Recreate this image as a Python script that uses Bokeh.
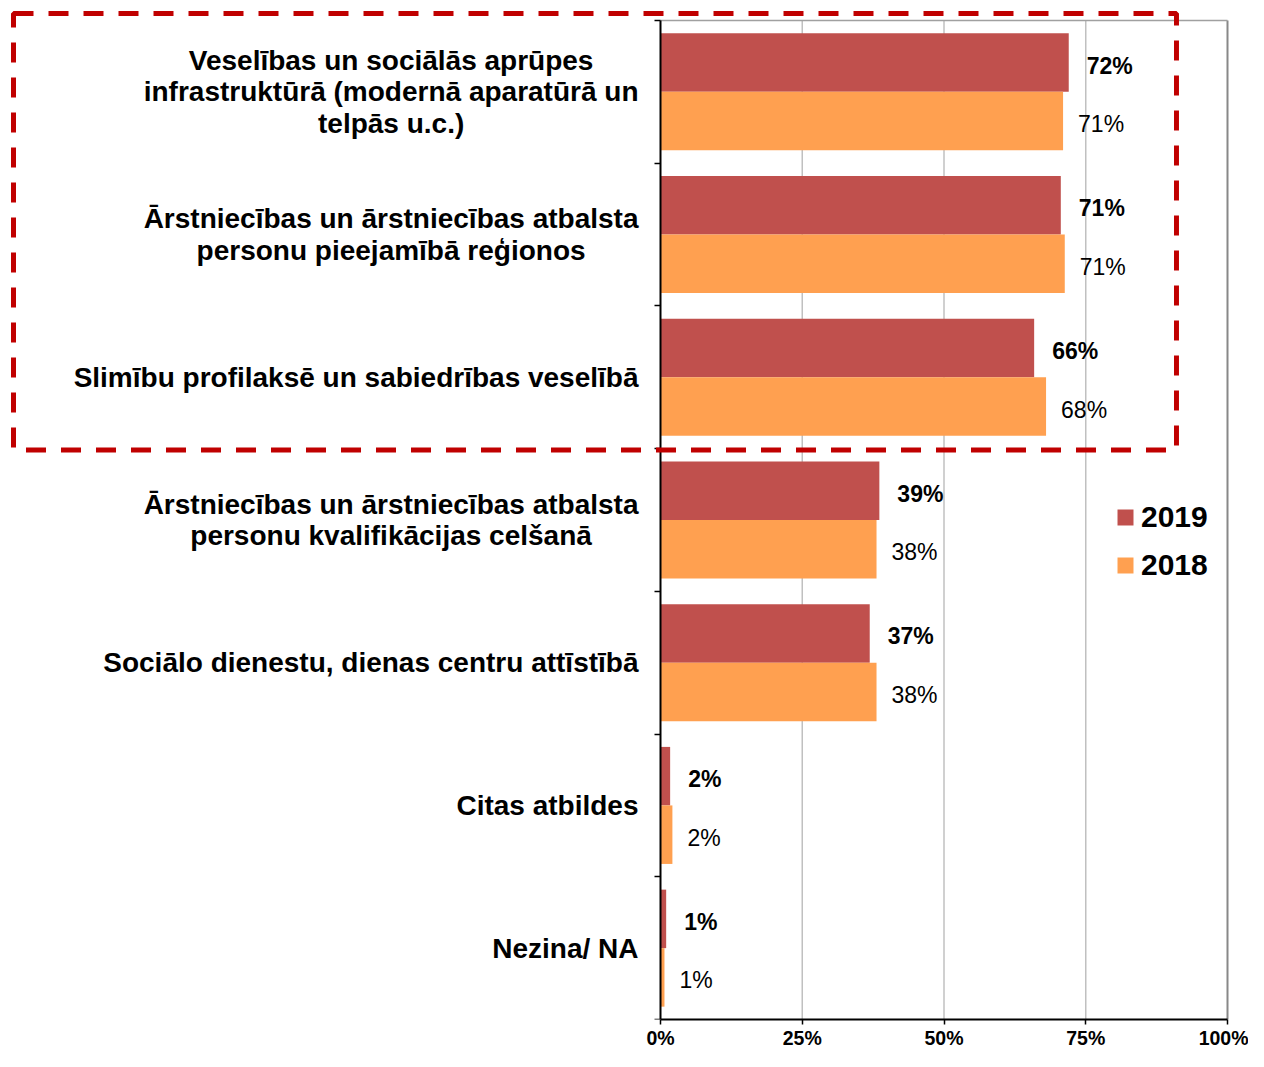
from bokeh.plotting import figure
from bokeh.models import (Range1d, FixedTicker, PrintfTickFormatter, BoxAnnotation,
                          Legend, LegendItem, ColumnDataSource, CustomJSTickFormatter)
from bokeh.transform import dodge
from bokeh.core.properties import value
from bokeh.embed import file_html
from bokeh.resources import INLINE

# ---------------- data ----------------
categories = [
    "Veselības un sociālās aprūpes\ninfrastruktūrā (modernā aparatūrā un\ntelpās u.c.)",
    "Ārstniecības un ārstniecības atbalsta\npersonu pieejamībā reģionos",
    "Slimību profilaksē un sabiedrības veselībā",
    "Ārstniecības un ārstniecības atbalsta\npersonu kvalifikācijas celšanā",
    "Sociālo dienestu, dienas centru attīstībā",
    "Citas atbildes",
    "Nezina/ NA",
]
values_2019 = [72.0, 70.6, 65.9, 38.6, 36.9, 1.7, 1.0]
values_2018 = [71.0, 71.3, 68.0, 38.1, 38.1, 2.1, 0.7]
series_names = ["2019", "2018"]
x_ticks = [0, 25, 50, 75, 100]

# ---------------- styles / layout ----------------
FONT = "Liberation Sans"
C2019 = "#C0504D"
C2018 = "#FFA050"
BAR_H = 0.41
n = len(categories)

W, H = 1248, 1051
FL, FR, FT, FB = 10, 1229, 8, 1022          # frame edges on the canvas (px)
PX0, PX100 = 660, 1227                      # where 0 % and 100 % sit (px)
PY0 = 20                                    # where the top category edge sits (px)
sx = (PX100 - PX0) / 100.0
sy = (FB - PY0) / n

src = ColumnDataSource(dict(
    y=[i + 0.5 for i in range(n)],
    cat=categories,
    v2019=values_2019,
    v2018=values_2018,
    l2019=[f"{round(v):d}%" for v in values_2019],
    l2018=[f"{round(v):d}%" for v in values_2018],
))

p = figure(width=W, height=H,
           x_range=Range1d(-(PX0 - FL) / sx, (FR - PX0) / sx),
           y_range=Range1d(n, -(PY0 - FT) / sy),
           output_backend="svg", toolbar_location=None,
           min_border_left=FL, min_border_right=W - FR, min_border_top=FT,
           min_border_bottom=H - FB)
p.background_fill_color = "white"
p.border_fill_color = "white"
p.outline_line_color = None
p.xgrid.visible = False
p.ygrid.visible = False

# vertical grid lines and plot-area border
p.segment(x0=x_ticks[1:-1], x1=x_ticks[1:-1], y0=0, y1=n, line_color="#C0C0C0", line_width=1.5)
p.segment(x0=[x_ticks[-1]], x1=[x_ticks[-1]], y0=0, y1=n, line_color="#888888", line_width=2)
p.segment(x0=[x_ticks[0]], x1=[x_ticks[-1]], y0=0, y1=0, line_color="#A0A0A0", line_width=1.5)

r19 = p.hbar(y=dodge("y", -BAR_H / 2, range=p.y_range), right="v2019", left=0, height=BAR_H,
             source=src, fill_color=C2019, line_color=None)
r18 = p.hbar(y=dodge("y", BAR_H / 2, range=p.y_range), right="v2018", left=0, height=BAR_H,
             source=src, fill_color=C2018, line_color=None)

p.text(x="v2019", y=dodge("y", -BAR_H / 2, range=p.y_range), text="l2019", source=src,
       x_offset=18, y_offset=3, text_font=value(FONT), text_font_size="23px",
       text_font_style="bold", text_baseline="middle", text_align="left", text_color="black")
p.text(x="v2018", y=dodge("y", BAR_H / 2, range=p.y_range), text="l2018", source=src,
       x_offset=15, y_offset=3, text_font=value(FONT), text_font_size="23px",
       text_font_style="normal", text_baseline="middle", text_align="left", text_color="black")

# category labels: block right-aligned, lines centred
p.text(x=0, y="y", text="cat", source=src, x_offset=-22,
       anchor=value("center_right"), text_align="center", text_baseline="middle",
       text_font=value(FONT), text_font_size="28px", text_font_style="bold",
       text_color="black", text_line_height=1.02)

# x axis
xa = p.xaxis[0]
xa.bounds = (x_ticks[0], x_ticks[-1])
xa.ticker = FixedTicker(ticks=x_ticks)
xa.formatter = PrintfTickFormatter(format="%d%%")
xa.major_label_text_font = FONT
xa.major_label_text_font_size = "19.5px"
xa.major_label_text_font_style = "bold"
xa.major_label_text_color = "black"
xa.major_label_standoff = 2
xa.axis_line_color = "black"
xa.axis_line_width = 2
xa.major_tick_line_color = "black"
xa.major_tick_line_width = 1.5
xa.major_tick_out = 5
xa.major_tick_in = 0
xa.minor_tick_out = 0
xa.minor_tick_in = 0

# y axis at x = 0: ticks at category boundaries, no labels
ya = p.yaxis[0]
ya.fixed_location = x_ticks[0]
ya.bounds = (0, n)
ya.ticker = FixedTicker(ticks=list(range(n + 1)))
ya.formatter = CustomJSTickFormatter(code="return ''")
ya.axis_line_color = "black"
ya.axis_line_width = 2
ya.major_tick_line_color = "black"
ya.major_tick_line_width = 1.5
ya.major_tick_out = 6
ya.major_tick_in = 0
ya.minor_tick_out = 0
ya.minor_tick_in = 0
ya.major_label_standoff = 0

# dashed highlight box around the first three categories
p.add_layout(BoxAnnotation(left=-(PX0 - 13) / sx, right=91.0, top=-(PY0 - 13) / sy, bottom=3.01,
                           fill_color=None, fill_alpha=0, line_color="#C00000",
                           line_alpha=1.0, line_width=5, line_dash="20 15"))

legend = Legend(items=[LegendItem(label=series_names[0], renderers=[r19]),
                       LegendItem(label=series_names[1], renderers=[r18])],
                location=(1105, 437), padding=0, spacing=14, glyph_width=20, glyph_height=20,
                label_standoff=6, label_text_font=FONT, label_text_font_size="30px",
                label_text_font_style="bold", label_text_color="black",
                background_fill_alpha=0, border_line_color=None)
p.add_layout(legend)

open("out.html", "w").write(file_html(p, INLINE))
